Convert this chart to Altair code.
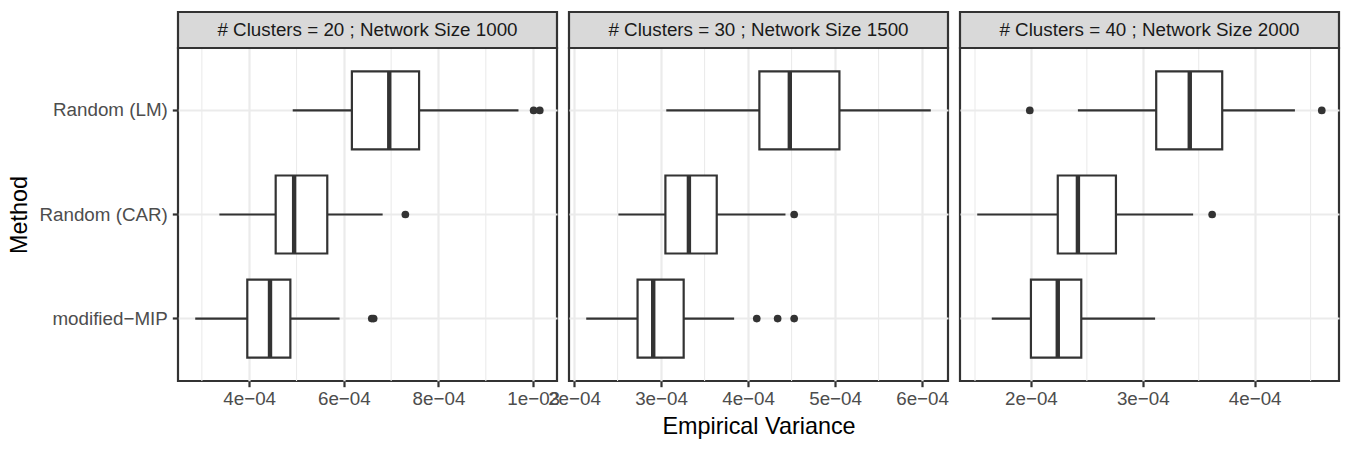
import altair as alt
import pandas as pd

FONT = "Liberation Sans"
INK = "#333333"
GRID = "#EBEBEB"
SCALE = 1e-4  # summary values below are in units of 1e-4

methods = ["Random (LM)", "Random (CAR)", "modified−MIP"]
panel_titles = [
    "# Clusters = 20 ; Network Size 1000",
    "# Clusters = 30 ; Network Size 1500",
    "# Clusters = 40 ; Network Size 2000",
]

# Box summaries per panel, each inner list ordered like `methods`
whisker_low = [[4.92, 3.37, 2.86], [3.06, 2.51, 2.14], [2.42, 1.52, 1.65]]
q1 = [[6.17, 4.56, 3.96], [4.13, 3.05, 2.73], [3.12, 2.24, 2.00]]
median = [[6.96, 4.95, 4.44], [4.48, 3.32, 2.91], [3.42, 2.42, 2.24]]
q3 = [[7.59, 5.65, 4.87], [5.05, 3.64, 3.26], [3.71, 2.76, 2.45]]
whisker_high = [[9.69, 6.82, 5.91], [6.10, 4.43, 3.84], [4.36, 3.45, 3.11]]
outliers = [
    [[10.01, 10.14], [7.30], [6.59, 6.63]],
    [[], [4.53], [4.10, 4.34, 4.53]],
    [[1.99, 4.60], [3.62], []],
]

major_ticks = [[4, 6, 8, 10], [2, 3, 4, 5, 6], [2, 3, 4]]
minor_ticks = [[3, 5, 7, 9], [2.5, 3.5, 4.5, 5.5], [1.5, 2.5, 3.5, 4.5]]

W, H = 379, 333
STRIP_H = 36
BAND = 0.75 * H / 3.2  # box height: 0.75 of one category step
TEXT_SIZE = 18.8
TITLE_SIZE = 23.4

# "4e−04" style tick labels
label_expr = (
    "floor(log(datum.value)/LN10 + 1e-9) < 0 ? "
    "round(datum.value / pow(10, floor(log(datum.value)/LN10 + 1e-9))) + 'e−0' + "
    "(-floor(log(datum.value)/LN10 + 1e-9)) : datum.label"
)


def panel(i):
    box = pd.DataFrame({
        "method": methods,
        "lo": [v * SCALE for v in whisker_low[i]],
        "q1": [v * SCALE for v in q1[i]],
        "med": [v * SCALE for v in median[i]],
        "q3": [v * SCALE for v in q3[i]],
        "hi": [v * SCALE for v in whisker_high[i]],
    })
    out = pd.DataFrame(
        [{"method": m, "value": v * SCALE} for m, vals in zip(methods, outliers[i]) for v in vals],
        columns=["method", "value"],
    )
    minor = pd.DataFrame({"value": [v * SCALE for v in minor_ticks[i]]})
    strip = pd.DataFrame({"title": [panel_titles[i]]})

    everything = whisker_low[i] + whisker_high[i] + [v for vals in outliers[i] for v in vals]
    lo, hi = min(everything), max(everything)
    pad = 0.05 * (hi - lo)
    domain = [(lo - pad) * SCALE, (hi + pad) * SCALE]

    xscale = alt.Scale(domain=domain, nice=False, zero=False)
    xaxis = alt.Axis(
        values=[v * SCALE for v in major_ticks[i]],
        labelExpr=label_expr,
        labelFlush=False,
        labelOverlap=False,
        title="Empirical Variance" if i == 1 else None,
    )
    yscale = alt.Scale(type="band", domain=methods, paddingInner=0.25, paddingOuter=0.225)
    if i == 0:
        yaxis = alt.Axis(title="Method", bandPosition=0.5)
    else:
        yaxis = alt.Axis(title=None, labels=False, ticks=False, bandPosition=0.5)

    def X(field, **kw):
        return alt.X(f"{field}:Q", scale=xscale, axis=xaxis, **kw)

    Y = alt.Y("method:N", scale=yscale, axis=yaxis, sort=methods)

    minor_grid = alt.Chart(minor).mark_rule(color=GRID, strokeWidth=1.1).encode(x=X("value"))
    whisker = alt.Chart(box).mark_rule(color=INK, strokeWidth=2.2).encode(
        x=X("lo"), x2="hi:Q", y=Y
    )
    boxes = alt.Chart(box).mark_bar(fill="white", stroke=INK, strokeWidth=2.2).encode(
        x=X("q1"), x2="q3:Q", y=Y
    )
    med = alt.Chart(box).mark_tick(color=INK, thickness=4.4, size=BAND, opacity=1).encode(
        x=X("med"), y=Y
    )
    pts = alt.Chart(out).mark_circle(color=INK, size=59, opacity=1).encode(x=X("value"), y=Y)
    strip_bg = alt.Chart(strip).mark_rect(fill="#D9D9D9", stroke=INK, strokeWidth=2.2).encode(
        x=alt.value(0), x2=alt.value(W), y=alt.value(-STRIP_H), y2=alt.value(0)
    )
    strip_txt = alt.Chart(strip).mark_text(
        font=FONT, fontSize=TEXT_SIZE, color="#1A1A1A", baseline="middle", align="center"
    ).encode(x=alt.value(W / 2), y=alt.value(-STRIP_H / 2), text="title:N")

    return alt.layer(minor_grid, whisker, boxes, med, pts, strip_bg, strip_txt).properties(
        width=W, height=H
    )


chart = (
    alt.hconcat(*[panel(i) for i in range(3)], spacing=12, bounds="flush")
    .properties(padding={"left": 6, "top": 9, "right": 5, "bottom": 5})
    .configure_view(stroke=INK, strokeWidth=2.2, fill="white")
    .configure_axis(
        labelFont=FONT,
        titleFont=FONT,
        labelFontSize=TEXT_SIZE,
        titleFontSize=TITLE_SIZE,
        labelColor="#4D4D4D",
        titleColor="#000000",
        titleFontWeight="normal",
        domain=False,
        tickColor=INK,
        tickWidth=2.2,
        tickSize=5.7,
        grid=True,
        gridColor=GRID,
        gridWidth=2.2,
    )
    .configure_axisX(labelPadding=3, titlePadding=7)
    .configure_axisY(labelPadding=5, titlePadding=7)
)

chart.save("out.html", embed_options={"renderer": "svg", "actions": False})
